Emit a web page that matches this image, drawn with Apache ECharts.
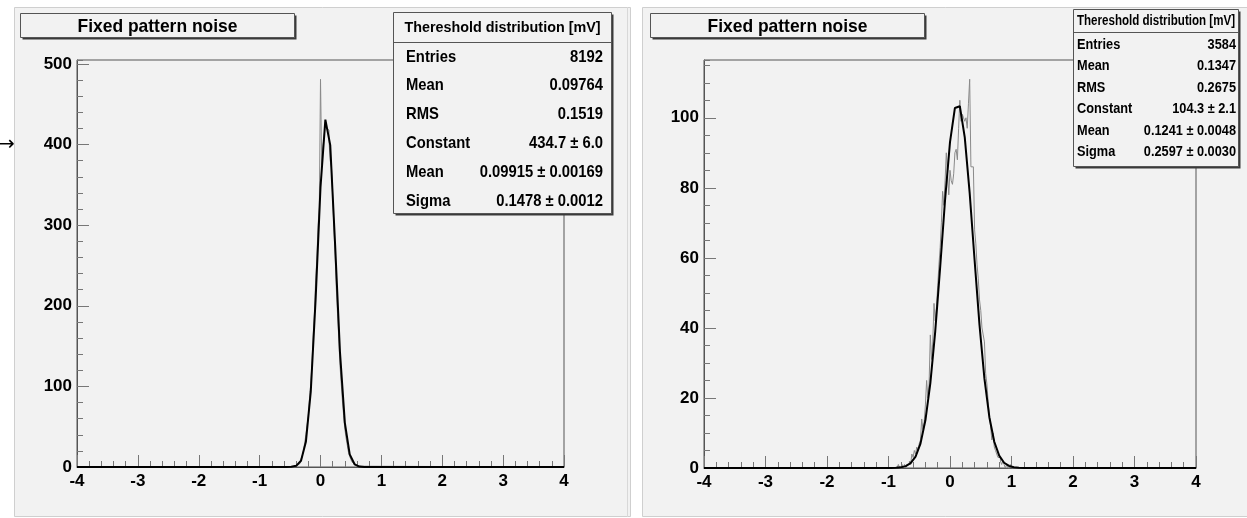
<!DOCTYPE html>
<html>
<head>
<meta charset="utf-8">
<script src="https://cdn.jsdelivr.net/npm/echarts@6/dist/echarts.min.js"></script>
<style>
  html, body { margin: 0; padding: 0; background: #ffffff; }
  #main { width: 1247px; height: 518px; }
</style>
</head>
<body>
<div id="main"></div>
<script>
// ---- data -------------------------------------------------------------
const histTitle = 'Fixed pattern noise';
const statsTitle = 'Thereshold distribution [mV]';
const statNames = ['Entries', 'Mean', 'RMS', 'Constant', 'Mean', 'Sigma'];

const binWidth = 0.02;
const xRange = [-4, 4];

// left panel: bin counts starting at the lower edge below
const leftFirstEdge = -0.50;
const leftCounts = [0, 0, 1, 0, 1, 2, 3, 4, 6, 10, 14, 20, 30, 40, 52, 63, 85, 104, 128, 163,
  190, 232, 258, 300, 322, 481, 375, 398, 410, 428, 420, 418, 404, 380, 372, 336, 297, 262, 221, 190,
  160, 126, 104, 82, 64, 47, 36, 27, 18, 13, 9, 6, 4, 3, 2, 1, 1];
const leftEntries = 8192;
const leftMean = 0.09764;
const leftRms = 0.1519;
const leftFit = [434.7, 0.09915, 0.1478];        // constant, mean, sigma
const leftFitErr = ['6.0', '0.00169', '0.0012'];
const leftYMax = 505;

// right panel
const rightFirstEdge = -0.86;
const rightCounts = [0, 1, 0, 0, 1, 0, 1, 0, 1, 1, 2, 1, 4, 3, 5, 4, 6, 5, 7, 8,
  14, 11, 13, 18, 25, 20, 24, 38, 31, 36, 47, 42, 46, 52, 58, 63, 70, 79, 75, 82,
  90, 84, 78, 85, 82, 81, 84, 90, 91, 88, 97, 105, 99, 101, 100, 99, 100, 97, 104, 111,
  86, 86, 86, 68, 64, 58, 54, 48, 45, 40, 38, 36, 27, 24, 19, 15, 12, 8, 10, 6,
  5, 4, 3, 3, 2, 1, 2, 1, 0, 1, 0, 0, 1, 0, 0];
const rightEntries = 3584;
const rightMean = 0.1347;
const rightRms = 0.2675;
const rightFit = [104.3, 0.1241, 0.2597];
const rightFitErr = ['2.1', '0.0048', '0.0030'];
const rightYMax = 116.5;

// ---- helpers ----------------------------------------------------------
const FONT = '"Liberation Sans", Arial, Helvetica, sans-serif';
const PAD_BG = '#f2f2f2';
const measureCtx = document.createElement('canvas').getContext('2d');
function squeeze(text, font, width) {
  measureCtx.font = font;
  return width / measureCtx.measureText(text).width;
}

// histogram outline: horizontal top of every bin joined by vertical edges
function histOutline(firstEdge, counts) {
  const pts = [[xRange[0], 0]];
  counts.forEach(function (c, i) {
    const lo = Math.round((firstEdge + i * binWidth) * 1000) / 1000;
    const hi = Math.round((lo + binWidth) * 1000) / 1000;
    pts.push([lo, c], [hi, c]);
  });
  pts.push([xRange[1], 0]);
  return pts;
}

// gaussian fit drawn from the fitted constant / mean / sigma, 100 segments
function fitCurve(p) {
  const n = 100, pts = [];
  for (let i = 0; i <= n; i++) {
    const x = xRange[0] + (xRange[1] - xRange[0]) * i / n;
    const z = (x - p[1]) / p[2];
    pts.push([x, p[0] * Math.exp(-0.5 * z * z)]);
  }
  return pts;
}

function statValues(entries, mean, rms, fit, err) {
  return [String(entries), String(mean), String(rms),
    fit[0] + ' \u00b1 ' + err[0], fit[1] + ' \u00b1 ' + err[1], fit[2] + ' \u00b1 ' + err[2]];
}

// ---- axes -------------------------------------------------------------
const labelStyle = { color: '#000', fontFamily: FONT, fontWeight: 'bold', fontSize: 17 };

function xAxisFor(gridIndex) {
  return {
    type: 'value', gridIndex: gridIndex, min: xRange[0], max: xRange[1], interval: 1,
    axisLine: { show: true, onZero: false, lineStyle: { color: '#555', width: 1 } },
    axisTick: { show: true, inside: true, length: 12, lineStyle: { color: '#777', width: 1 } },
    minorTick: { show: true, splitNumber: 5, length: 6, lineStyle: { color: '#777', width: 1 } },
    axisLabel: Object.assign({ margin: 6, showMinLabel: true, showMaxLabel: true }, labelStyle),
    splitLine: { show: false }
  };
}
function yAxesFor(gridIndex, max, major, minor) {
  return [{
    type: 'value', gridIndex: gridIndex, position: 'left', min: 0, max: max, interval: major,
    axisLine: { show: true, onZero: false, lineStyle: { color: '#555', width: 1 } },
    axisTick: { show: true, inside: true, length: 12, lineStyle: { color: '#777', width: 1 } },
    axisLabel: Object.assign({ margin: 5, showMaxLabel: false }, labelStyle),
    splitLine: { show: false }
  }, {
    type: 'value', gridIndex: gridIndex, position: 'left', min: 0, max: max, interval: minor,
    axisLine: { show: false, onZero: false },
    axisTick: { show: true, inside: true, length: 6, lineStyle: { color: '#777', width: 1 } },
    axisLabel: { show: false },
    splitLine: { show: false }
  }];
}

// ---- decorations: pads, title boxes, stats boxes ----------------------
function shadowBox(x, y, w, h, z) {
  return [
    { type: 'rect', z: z, silent: true, shape: { x: x + 2, y: y + 2, width: w, height: h },
      style: { fill: '#3a3a3a' } },
    { type: 'rect', z: z + 1, silent: true, shape: { x: x, y: y, width: w, height: h },
      style: { fill: PAD_BG, stroke: '#555', lineWidth: 1 } }
  ];
}

function titleBox(x, y, w, h) {
  const font = 'bold 18.5px ' + FONT;
  const els = shadowBox(x, y, w, h, 50);
  els.push({ type: 'text', z: 52, silent: true, x: x + w / 2, y: y + h / 2 + 1,
    scaleX: squeeze(histTitle, font, 160),
    style: { text: histTitle, font: font, fill: '#000', align: 'center', verticalAlign: 'middle' } });
  return els;
}

function statsBox(b, values) {
  const els = shadowBox(b.x, b.y, b.w, b.h, 60);
  els.push({ type: 'line', z: 62, silent: true,
    shape: { x1: b.x, y1: b.sep, x2: b.x + b.w, y2: b.sep }, style: { stroke: '#555', lineWidth: 1 } });
  const hFont = 'bold ' + b.headSize + 'px ' + FONT;
  els.push({ type: 'text', z: 62, silent: true, x: b.x + b.w / 2, y: b.headY,
    scaleX: squeeze(statsTitle, hFont, b.headWidth),
    style: { text: statsTitle, font: hFont, fill: '#000', align: 'center', verticalAlign: 'middle' } });
  const rFont = 'bold ' + b.rowSize + 'px ' + FONT;
  statNames.forEach(function (name, i) {
    const y = b.row0 + i * b.rowStep;
    els.push({ type: 'text', z: 62, silent: true, x: b.textL, y: y, scaleX: b.squeeze,
      style: { text: name, font: rFont, fill: '#000', align: 'left', verticalAlign: 'middle' } });
    els.push({ type: 'text', z: 62, silent: true, x: b.textR, y: y, scaleX: b.squeeze,
      style: { text: values[i], font: rFont, fill: '#000', align: 'right', verticalAlign: 'middle' } });
  });
  return els;
}

const graphics = [].concat(
  [
    { type: 'rect', z: -100, silent: true, shape: { x: 14.5, y: 7.5, width: 616, height: 509 },
      style: { fill: PAD_BG, stroke: '#cfcfcf', lineWidth: 1 } },
    { type: 'rect', z: -100, silent: true, shape: { x: 642.5, y: 7.5, width: 610, height: 509 },
      style: { fill: PAD_BG, stroke: '#cfcfcf', lineWidth: 1 } },
    { type: 'line', z: -99, silent: true, shape: { x1: 627.5, y1: 7, x2: 627.5, y2: 517 },
      style: { stroke: '#d8d8d8', lineWidth: 1 } },
    { type: 'text', z: 10, silent: true, x: -2, y: 145,
      style: { text: '\u2192', font: '20px "DejaVu Sans", sans-serif', fill: '#000', align: 'left', verticalAlign: 'middle' } }
  ],
  titleBox(20.5, 13.5, 274, 24),
  titleBox(650.5, 13.5, 274, 24),
  statsBox({ x: 393.5, y: 12.5, w: 218, h: 201, sep: 42.5, headY: 27.5, headSize: 15.5, headWidth: 196,
    rowSize: 17, row0: 57, rowStep: 28.8, textL: 406, textR: 603, squeeze: 0.87 },
    statValues(leftEntries, leftMean, leftRms, leftFit, leftFitErr)),
  statsBox({ x: 1073.5, y: 9.5, w: 165, h: 157, sep: 32.5, headY: 21.5, headSize: 14, headWidth: 158,
    rowSize: 14.5, row0: 45, rowStep: 21.4, textL: 1077, textR: 1236, squeeze: 0.88 },
    statValues(rightEntries, rightMean, rightRms, rightFit, rightFitErr))
);

// ---- chart ------------------------------------------------------------
const chart = echarts.init(document.getElementById('main'), null, { renderer: 'canvas' });
chart.setOption({
  animation: false,
  backgroundColor: '#ffffff',
  grid: [
    { left: 77, top: 60, width: 487, height: 407, show: true, borderColor: '#555', borderWidth: 1,
      backgroundColor: 'transparent', containLabel: false },
    { left: 704, top: 60, width: 492, height: 408, show: true, borderColor: '#555', borderWidth: 1,
      backgroundColor: 'transparent', containLabel: false }
  ],
  xAxis: [xAxisFor(0), xAxisFor(1)],
  yAxis: [].concat(yAxesFor(0, leftYMax, 100, 20), yAxesFor(1, rightYMax, 20, 5)),
  series: [
    { type: 'line', xAxisIndex: 0, yAxisIndex: 0, data: histOutline(leftFirstEdge, leftCounts),
      showSymbol: false, silent: true, lineStyle: { color: '#8a8a8a', width: 1 }, z: 2 },
    { type: 'line', xAxisIndex: 0, yAxisIndex: 0, data: fitCurve(leftFit),
      showSymbol: false, silent: true, lineStyle: { color: '#000', width: 2 }, z: 3 },
    { type: 'line', xAxisIndex: 1, yAxisIndex: 2, data: histOutline(rightFirstEdge, rightCounts),
      showSymbol: false, silent: true, lineStyle: { color: '#8a8a8a', width: 1 }, z: 2 },
    { type: 'line', xAxisIndex: 1, yAxisIndex: 2, data: fitCurve(rightFit),
      showSymbol: false, silent: true, lineStyle: { color: '#000', width: 2 }, z: 3 }
  ],
  graphic: { elements: graphics }
});
</script>
</body>
</html>
